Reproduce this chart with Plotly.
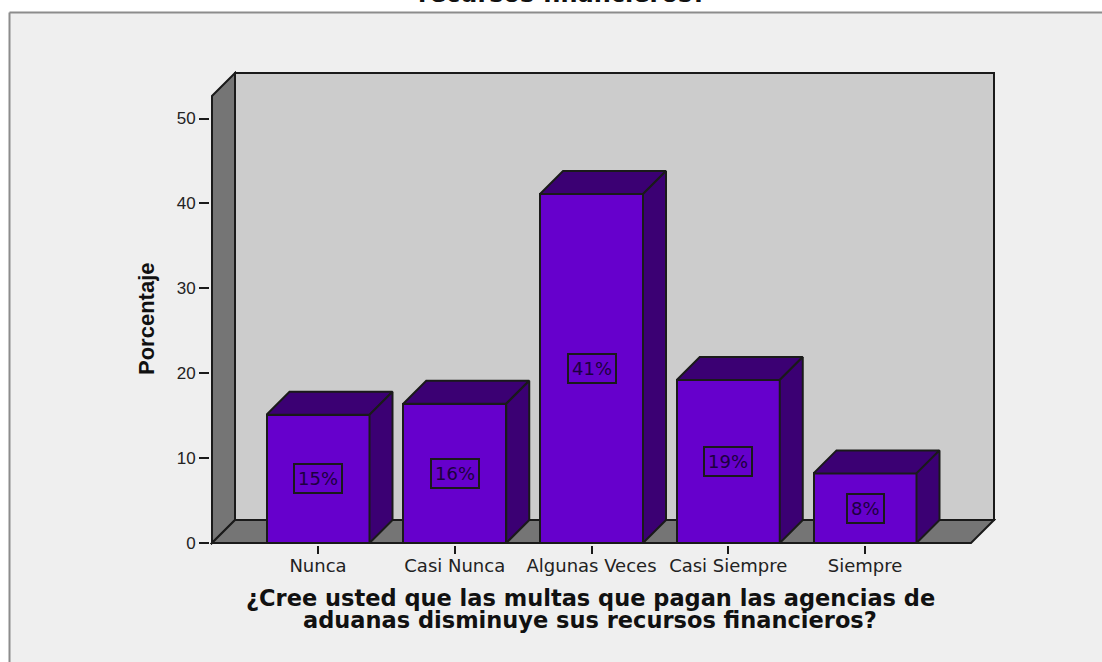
import plotly.graph_objects as go

categories = ["Nunca", "Casi Nunca", "Algunas Veces", "Casi Siempre", "Siempre"]
percentages = [15.1, 16.4, 41.1, 19.2, 8.2]
bar_labels = ["15%", "16%", "41%", "19%", "8%"]
y_ticks = [0, 10, 20, 30, 40, 50]

title_tail = "recursos financieros?"
x_title_lines = ["¿Cree usted que las multas que pagan las agencias de",
                 "aduanas disminuye sus recursos financieros?"]
y_title = "Porcentaje"

WIDTH, HEIGHT = 1102, 662
# 3d box in page pixels
BOX_LEFT, BOX_RIGHT, BOX_TOP, BOX_BOTTOM = 212, 994, 73, 543
# plot area is a bit larger so the box outline is not clipped
PAD = 2
LEFT, RIGHT, TOP, BOTTOM = BOX_LEFT - PAD, BOX_RIGHT + PAD, BOX_TOP - PAD, BOX_BOTTOM + PAD
PX_PER_CAT = 136.75
PX_PER_UNIT = 8.49
FIRST_CENTER = 318
DEPTH_PX = 23
BAR_PX = 103

x_min = (BOX_LEFT - FIRST_CENTER) / PX_PER_CAT
x_max = (BOX_RIGHT - FIRST_CENTER) / PX_PER_CAT
y_max = (BOX_BOTTOM - BOX_TOP) / PX_PER_UNIT
x_pad = PAD / PX_PER_CAT
y_pad = PAD / PX_PER_UNIT
dx = DEPTH_PX / PX_PER_CAT
dy = DEPTH_PX / PX_PER_UNIT
half = BAR_PX / PX_PER_CAT / 2

FRONT = "#6600cc"
SIDE = "#3b0073"
WALL = "#cccccc"
WALL_SIDE = "#757575"
EDGE = "#1a1a1a"
PANEL = "#efefef"
FRAME = "#8c8c8c"
TEXT = "#111111"


def paper_x(px):
    return (px - LEFT) / (RIGHT - LEFT)


def paper_y(py):
    return (BOTTOM - py) / (BOTTOM - TOP)


def poly(points):
    return "M " + " L ".join(f"{x} {y}" for x, y in points) + " Z"


def wall(points, color):
    return dict(type="path", path=poly(points), xref="x", yref="y", layer="below",
                fillcolor=color, line=dict(color=EDGE, width=2))


def face(xs, ys):
    return go.Scatter(x=xs, y=ys, mode="lines", fill="toself", fillcolor=SIDE,
                      line=dict(color=EDGE, width=2), hoverinfo="skip", showlegend=False)


def page_text(px, py, text, family, size, angle=0):
    return dict(x=paper_x(px), y=paper_y(py), xref="paper", yref="paper", text=text,
                showarrow=False, textangle=angle, xanchor="center", yanchor="middle",
                font=dict(family=family, size=size, color=TEXT))


fig = go.Figure()

fig.add_trace(go.Bar(x=list(range(len(categories))), y=percentages, width=2 * half,
                     marker=dict(color=FRONT, line=dict(color=EDGE, width=2)),
                     showlegend=False))

# top and side of each bar
for i, val in enumerate(percentages):
    l, r = i - half, i + half
    fig.add_trace(face([l, l + dx, r + dx, r, l], [val, val + dy, val + dy, val, val]))
    fig.add_trace(face([r, r + dx, r + dx, r, r], [0, dy, val + dy, val, 0]))

x_front_end = x_max - dx
shapes = [
    # panel and its frame, open on the right and at the bottom
    dict(type="rect", xref="paper", yref="paper", x0=paper_x(9.5), x1=paper_x(WIDTH),
         y0=paper_y(HEIGHT), y1=paper_y(12.5), fillcolor=PANEL, line_width=0, layer="below"),
    dict(type="line", xref="paper", yref="paper", x0=paper_x(9.5), x1=paper_x(WIDTH),
         y0=paper_y(12.5), y1=paper_y(12.5), line=dict(color=FRAME, width=2), layer="below"),
    dict(type="line", xref="paper", yref="paper", x0=paper_x(9.5), x1=paper_x(9.5),
         y0=paper_y(12.5), y1=paper_y(HEIGHT), line=dict(color=FRAME, width=2), layer="below"),
    wall([(x_min + dx, dy), (x_max, dy), (x_max, y_max), (x_min + dx, y_max)], WALL),
    wall([(x_min, 0), (x_min + dx, dy), (x_min + dx, y_max), (x_min, y_max - dy)], WALL_SIDE),
    wall([(x_min, 0), (x_front_end, 0), (x_max, dy), (x_min + dx, dy)], WALL_SIDE),
]

annotations = []
for i, (val, label) in enumerate(zip(percentages, bar_labels)):
    annotations.append(dict(x=i, y=val / 2, xref="x", yref="y", text=label, showarrow=False,
                            font=dict(family="DejaVu Sans", size=18, color="#1c0040"),
                            height=21, bordercolor=EDGE, borderwidth=2, borderpad=3))

annotations.append(page_text(562, -6, f"<b>{title_tail}</b>", "DejaVu Sans", 24))
annotations.append(page_text(590, 598, f"<b>{x_title_lines[0]}</b>", "DejaVu Sans", 22.5))
annotations.append(page_text(590, 620, f"<b>{x_title_lines[1]}</b>", "DejaVu Sans", 22.5))
annotations.append(page_text(146, 319, f"<b>{y_title}</b>", "Liberation Sans", 22, angle=-90))

fig.update_layout(
    width=WIDTH, height=HEIGHT, autosize=False,
    margin=dict(l=LEFT, r=WIDTH - RIGHT, t=TOP, b=HEIGHT - BOTTOM, pad=0),
    paper_bgcolor="white", plot_bgcolor="rgba(0,0,0,0)",
    shapes=shapes, annotations=annotations, bargap=0,
)

fig.update_xaxes(range=[x_min - x_pad, x_max + x_pad], tickmode="array",
                 tickvals=list(range(len(categories))), ticktext=categories, tickangle=0,
                 ticks="outside", ticklen=8, tickwidth=2, tickcolor=EDGE, ticklabelstandoff=-4,
                 tickfont=dict(family="DejaVu Sans", size=18, color="#222222"),
                 showgrid=False, zeroline=False, showline=False, fixedrange=True)
fig.update_yaxes(range=[-y_pad, y_max + y_pad], tickmode="array", tickvals=y_ticks,
                 ticks="outside", ticklen=10, tickwidth=2, tickcolor=EDGE,
                 tickfont=dict(family="Liberation Sans", size=17, color="#222222"),
                 showgrid=False, zeroline=False, showline=False, fixedrange=True)

fig.write_html("out.html", config=dict(displayModeBar=False),
               post_script="document.body.style.margin='0';document.documentElement.style.overflow='hidden';")
